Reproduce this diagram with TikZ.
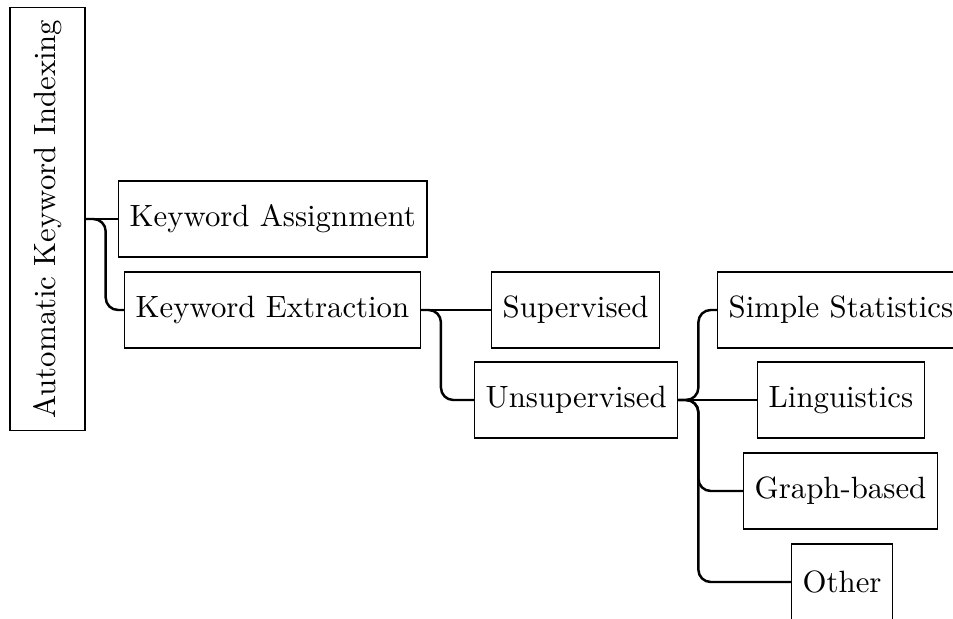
\documentclass[tikz,border=0pt]{standalone}
\usetikzlibrary{calc}
\tikzstyle{tb} = [rectangle,
                  anchor=west,
                  inner xsep=3.6pt,
                  text centered,
                  minimum height=24.7pt,
                  draw=black,
                  fill=white]
\tikzstyle{rb} = [rectangle,
                  rotate=90,
                  inner xsep=4pt,
                  text centered,
                  minimum height=24.4pt,
                  draw=black,
                  fill=white]
\tikzstyle{lk} = [thick, rounded corners=4pt]

\begin{document}
\begin{tikzpicture}[x=0.3247pt, y=-0.3247pt]
  \useasboundingbox (0,0) rectangle (953,619);
  \node [rb] (root) at (47.5,219) {Automatic Keyword Indexing};
  % first level
  \node [tb] (asg) at (118,219) {Keyword Assignment};
  \node [tb] (ext) at (124,310) {Keyword Extraction};
  % second level
  \node [tb] (sup) at (491,310) {Supervised};
  \node [tb] (uns) at (474,400) {Unsupervised};
  % third level
  \node [tb] (sim) at (717,310) {Simple Statistics};
  \node [tb] (lin) at (757,400) {Linguistics};
  \node [tb] (gra) at (743,491) {Graph-based};
  \node [tb] (oth) at (791,582) {Other};
  % straight links
  \foreach \a/\b in {root.south/asg, ext.east/sup, uns.east/lin}
    \draw [thick] (\a) -- (\b.west);
  % bent links
  \foreach \a/\b in {root.south/ext, ext.east/uns,
                     uns.east/sim, uns.east/gra, uns.east/oth}
    \draw [lk] (\a) -- ++(20,0) |- (\b.west);
\end{tikzpicture}
\end{document}
